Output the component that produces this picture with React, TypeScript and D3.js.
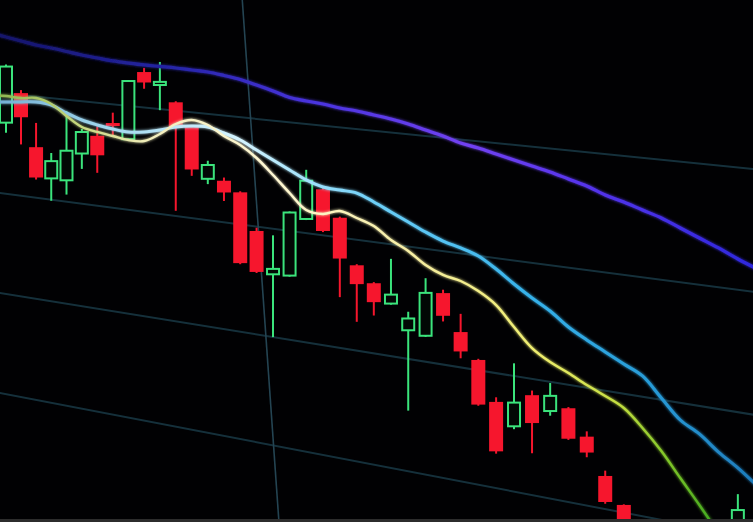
import React from "react";
import * as d3 from "d3";

const WIDTH = 753;
const HEIGHT = 522;

// ---- candle data (index 0..43) ----
const opens = [371, 402, 350, 321, 321, 349, 368, 382, 368, 434, 423, 408, 386, 339, 339, 330, 296, 258, 259, 313, 342, 318, 277, 263, 247, 225.5, 223, 263, 231, 209, 175, 156.5, 186, 175, 180, 158.5, 128, 106.5, 77, 70, 84, 78, 90, 100];
const closes = [427, 378, 320, 338, 350, 370, 349, 379, 424, 424, 426, 384, 346, 352, 328, 264, 258, 263, 317, 348, 304, 281, 260, 246, 255, 236, 261, 243, 214, 170, 132, 177, 162, 188, 154, 145, 106, 77, 70, 84, 78, 90, 96, 120];
const highs = [429, 405, 374, 346, 389, 373, 377, 392, 425, 438, 445, 409, 387, 356, 342, 331, 299, 294, 318, 358, 343, 319, 278, 264, 287, 242, 274, 266, 247, 210, 179, 211, 190, 199, 181, 163, 132.5, 107, 85, 90, 92, 95, 100, 133];
const lows = [361, 351, 318, 299, 307, 334, 332, 370, 367, 418, 399, 305, 340, 334, 320, 263, 257, 200, 258, 312, 303, 246, 226, 234, 246, 154, 222, 238, 208, 169, 130, 154, 136, 171, 153, 141, 104.5, 72, 62, 66, 72, 74, 85, 98];

// ---- moving averages (index -1..44) ----
const maStart = -1;
const fastMA = [397.1, 397.6, 397.1, 398.7, 394.3, 384.0, 374.9, 371.7, 369.4, 367.2, 367.9, 376.3, 387.4, 392.8, 389.6, 380.9, 374.1, 363.7, 349.7, 334.9, 321.2, 319.5, 324.1, 319.7, 314.4, 303.8, 296.1, 285.7, 279.0, 275.8, 269.2, 259.2, 242.4, 226.6, 217.0, 210.1, 202.4, 195.6, 188.0, 173.9, 157.4, 137.7, 118.3, 98.2, 79.2, 62.0];
const midMA = [390.1, 391.6, 393.2, 394.7, 393.3, 387.0, 381.7, 378.5, 376.2, 374.9, 376.6, 380.1, 384.6, 387.1, 387.7, 383.7, 378.8, 371.1, 363.6, 356.1, 348.7, 344.1, 343.1, 342.2, 336.0, 328.9, 321.9, 314.9, 308.9, 304.8, 299.8, 290.5, 279.6, 269.7, 260.7, 249.3, 240.6, 232.8, 225.0, 217.4, 201.5, 185.8, 176.9, 164.7, 154.4, 142.5];
const slowMA = [459.3, 456.5, 453.8, 451.1, 449.4, 447.3, 445.1, 443.5, 442.0, 441.3, 440.8, 440.7, 440.6, 440.0, 439.5, 437.6, 435.2, 431.4, 427.3, 422.7, 421.0, 419.7, 417.5, 416.2, 414.1, 412.0, 409.1, 405.3, 401.5, 396.9, 394.1, 390.5, 386.9, 383.4, 379.9, 375.6, 371.3, 365.4, 361.3, 356.3, 351.5, 345.0, 338.6, 332.3, 325.2, 319.0];

// ---- grid ----
const priceGrid = [100, 200, 300, 400];
const timeGrid = [16.1];

// ---- perspective (photo of a screen) ----
const HVP = { x: -3300, y: -240 }; // where horizontal lines converge
const VVP = { x: 460, y: 3100 }; // where vertical lines converge
const depth = d3.scaleLinear().domain([0, 1]).range([0, 0.002824]);
const xOffset = -5289;
const xSpread = 5295;
const screenX = (i: number) => xOffset + xSpread / (1 - depth(i));
const yScale = d3.scaleLinear().domain([100, 400]).range([393, 93]);
const screenY = (x: number, p: number) =>
  HVP.y + ((yScale(p) - HVP.y) * (x - HVP.x)) / -HVP.x;

const RED = "#f6162d";
const GREEN = "#3be47c";
const BODY_W = 14;

type MAPoint = { i: number; v: number };

function maPath(values: number[]) {
  const pts: MAPoint[] = values.map((v, k) => ({ i: k + maStart, v }));
  const gen = d3
    .line<MAPoint>()
    .x((d) => screenX(d.i))
    .y((d) => screenY(screenX(d.i), d.v))
    .curve(d3.curveCatmullRom.alpha(0.5));
  return gen(pts) || "";
}

export default function App() {
  const candles = opens.map((o, i) => {
    const c = closes[i];
    const x = screenX(i);
    const up = c >= o;
    const top = screenY(x, Math.max(o, c));
    const bot = screenY(x, Math.min(o, c));
    const hy = screenY(x, highs[i]);
    const ly = screenY(x, lows[i]);
    return { i, x, up, top, bot, hy, ly };
  });

  const gridLines = priceGrid.map((p) => {
    const x0 = -10;
    const x1 = WIDTH + 10;
    return { p, x0, y0: screenY(x0, p), x1, y1: screenY(x1, p) };
  });

  const vLines = timeGrid.map((t) => {
    const x = screenX(t);
    const y = screenY(x, 300);
    const slope = (VVP.x - x) / (VVP.y - y);
    const ya = -10;
    const yb = HEIGHT + 10;
    return { t, xa: x + (ya - y) * slope, ya, xb: x + (yb - y) * slope, yb };
  });

  return (
    <svg
      width={WIDTH}
      height={HEIGHT}
      viewBox={`0 0 ${WIDTH} ${HEIGHT}`}
      style={{ position: "absolute", left: 0, top: 0, display: "block", background: "#010103" }}
    >
      <defs>
        <linearGradient id="gSlow" gradientUnits="userSpaceOnUse" x1={0} y1={0} x2={WIDTH} y2={0}>
          <stop offset="0" stopColor="#15156a" />
          <stop offset="0.22" stopColor="#2424a4" />
          <stop offset="0.42" stopColor="#4a34e0" />
          <stop offset="0.62" stopColor="#7242f2" />
          <stop offset="0.78" stopColor="#5534ec" />
          <stop offset="1" stopColor="#2e28dc" />
        </linearGradient>
        <linearGradient id="gMid" gradientUnits="userSpaceOnUse" x1={0} y1={0} x2={WIDTH} y2={0}>
          <stop offset="0" stopColor="#74b0d4" />
          <stop offset="0.15" stopColor="#a4daf0" />
          <stop offset="0.32" stopColor="#d4f4ff" />
          <stop offset="0.5" stopColor="#6ccff8" />
          <stop offset="0.7" stopColor="#36b2ea" />
          <stop offset="0.86" stopColor="#289cd8" />
          <stop offset="1" stopColor="#1e7cbc" />
        </linearGradient>
        <linearGradient id="gFast" gradientUnits="userSpaceOnUse" x1={0} y1={0} x2={WIDTH} y2={0}>
          <stop offset="0" stopColor="#90b850" />
          <stop offset="0.1" stopColor="#c4d67c" />
          <stop offset="0.2" stopColor="#f2eebc" />
          <stop offset="0.36" stopColor="#fff8d4" />
          <stop offset="0.56" stopColor="#f6eea0" />
          <stop offset="0.72" stopColor="#eeee6c" />
          <stop offset="0.82" stopColor="#c4de40" />
          <stop offset="0.89" stopColor="#7cc428" />
          <stop offset="0.96" stopColor="#34a21e" />
        </linearGradient>
        <filter id="glow" x="-5%" y="-5%" width="110%" height="110%">
          <feGaussianBlur stdDeviation="1.5" result="b" />
          <feMerge>
            <feMergeNode in="b" />
            <feMergeNode in="SourceGraphic" />
          </feMerge>
        </filter>
      </defs>

      <rect x={0} y={0} width={WIDTH} height={HEIGHT} fill="#010103" />

      <g>
        {gridLines.map((g) => (
          <line key={g.p} x1={g.x0} y1={g.y0} x2={g.x1} y2={g.y1} stroke="#15303b" strokeWidth={2} />
        ))}
        {vLines.map((v) => (
          <line key={v.t} x1={v.xa} y1={v.ya} x2={v.xb} y2={v.yb} stroke="#244452" strokeWidth={1.6} />
        ))}
      </g>

      <g>
        {candles.map((c) =>
          c.up ? (
            <g key={c.i} stroke={GREEN} strokeWidth={2} fill="none">
              <line x1={c.x} x2={c.x} y1={c.hy} y2={c.top} />
              <line x1={c.x} x2={c.x} y1={c.bot} y2={c.ly} />
              <rect
                x={c.x - BODY_W / 2 + 1}
                y={c.top}
                width={BODY_W - 2}
                height={Math.max(2, c.bot - c.top)}
                fill="#020805"
              />
            </g>
          ) : (
            <g key={c.i}>
              <line x1={c.x} x2={c.x} y1={c.hy} y2={c.ly} stroke={RED} strokeWidth={2} />
              <rect
                x={c.x - BODY_W / 2}
                y={c.top}
                width={BODY_W}
                height={Math.max(3, c.bot - c.top)}
                fill={RED}
              />
            </g>
          )
        )}
      </g>

      <g fill="none" strokeLinecap="round" strokeLinejoin="round" filter="url(#glow)">
        <path d={maPath(slowMA)} stroke="url(#gSlow)" strokeWidth={3.2} />
        <path d={maPath(midMA)} stroke="url(#gMid)" strokeWidth={3} />
        <path d={maPath(fastMA)} stroke="url(#gFast)" strokeWidth={2.4} />
      </g>

      <rect x={0} y={HEIGHT - 3} width={WIDTH} height={3} fill="#2c2c2c" />
    </svg>
  );
}
